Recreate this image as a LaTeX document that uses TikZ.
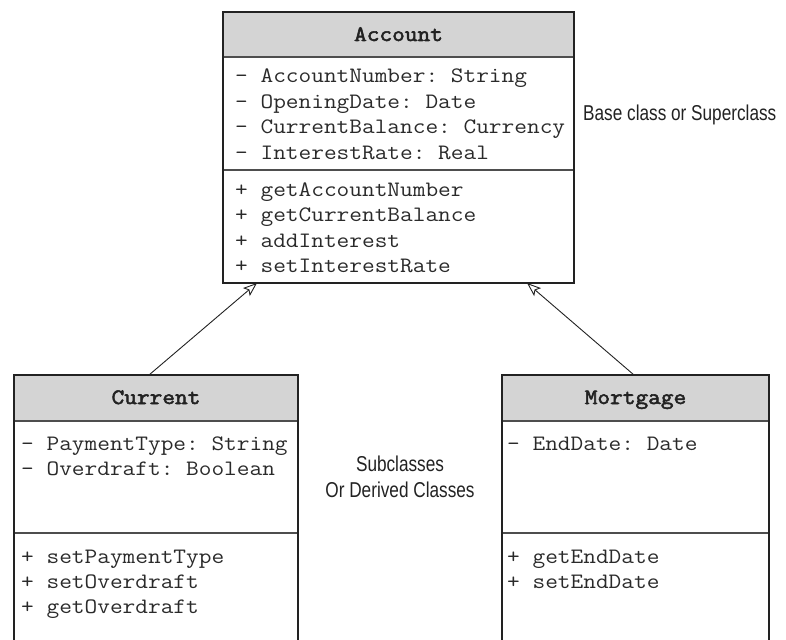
\documentclass[tikz,border=0pt]{standalone}
\usepackage{fontspec}
\setmonofont[FakeStretch=1.12]{Latin Modern Mono}
\newfontfamily\boldmono[FakeStretch=1.12,FakeBold=2.5]{Latin Modern Mono}
\newfontfamily\condsans[FakeStretch=0.8]{Liberation Sans}
\usetikzlibrary{arrows.meta,calc}
\definecolor{hdr}{HTML}{D4D4D4}
\definecolor{ink}{HTML}{222222}
\definecolor{txt}{HTML}{2A2A2A}
\begin{document}
\begin{tikzpicture}[x=1pt,y=-1pt,
  sect/.style={rectangle, inner sep=0pt, outer sep=0pt, anchor=north west},
  hdrbox/.style={sect, fill=hdr},
  mono/.style={inner sep=0pt, anchor=base west, font=\ttfamily\fontsize{22}{25}\selectfont, text=txt},
  clsname/.style={inner sep=0pt, anchor=base, font=\boldmono\fontsize{22}{25}\selectfont, text=ink},
  note/.style={inner sep=0pt, anchor=base, font=\condsans\fontsize{21.5}{26}\selectfont, text=ink},
  outline/.style={draw=ink, line width=2.4pt},
  divider/.style={draw=ink!80, line width=1.3pt},
  inherit/.style={draw=ink, line width=0.9pt, -{Stealth[open, length=14pt, width=10.5pt, inset=3pt]}}
]
\path[use as bounding box] (0,0) rectangle (786,639);
\clip (0,0) rectangle (786,639);

% ---------- Account ----------
\node[hdrbox, minimum width=351pt, minimum height=45pt] (accH) at (223,12) {};
\node[sect, minimum width=351pt, minimum height=113pt] (accA) at (223,57) {};
\node[sect, minimum width=351pt, minimum height=113pt] (accM) at (223,170) {};
\draw[divider] (accH.south west) -- (accH.south east);
\draw[divider] (accA.south west) -- (accA.south east);
\draw[outline] (accH.north west) rectangle (accM.south east);
\node[clsname] (accT) at (398.5,41) {Account};
\node[mono] (acc1) at (235,83) {– AccountNumber: String};
\node[mono] (acc2) at (235,108.5) {– OpeningDate: Date};
\node[mono] (acc3) at (235,134) {– CurrentBalance: Currency};
\node[mono] (acc4) at (235,159.5) {– InterestRate: Real};
\node[mono] (acc5) at (235,196) {+ getAccountNumber};
\node[mono] (acc6) at (235,221.5) {+ getCurrentBalance};
\node[mono] (acc7) at (235,247) {+ addInterest};
\node[mono] (acc8) at (235,272.5) {+ setInterestRate};

% ---------- Current ----------
\node[hdrbox, minimum width=284pt, minimum height=46pt] (curH) at (14,375) {};
\node[sect, minimum width=284pt, minimum height=112pt] (curA) at (14,421) {};
\node[sect, minimum width=284pt, minimum height=130pt] (curM) at (14,533) {};
\draw[divider] (curH.south west) -- (curH.south east);
\draw[divider] (curA.south west) -- (curA.south east);
\draw[outline] (curH.north west) rectangle (curM.south east);
\node[clsname] (curT) at (156,404) {Current};
\node[mono] (cur1) at (21,450) {– PaymentType: String};
\node[mono] (cur2) at (21,475.5) {– Overdraft: Boolean};
\node[mono] (cur3) at (21,563) {+ setPaymentType};
\node[mono] (cur4) at (21,588) {+ setOverdraft};
\node[mono] (cur5) at (21,613) {+ getOverdraft};

% ---------- Mortgage ----------
\node[hdrbox, minimum width=267pt, minimum height=46pt] (morH) at (502,375) {};
\node[sect, minimum width=267pt, minimum height=112pt] (morA) at (502,421) {};
\node[sect, minimum width=267pt, minimum height=130pt] (morM) at (502,533) {};
\draw[divider] (morH.south west) -- (morH.south east);
\draw[divider] (morA.south west) -- (morA.south east);
\draw[outline] (morH.north west) rectangle (morM.south east);
\node[clsname] (morT) at (635.5,404) {Mortgage};
\node[mono] (mor1) at (507,450) {– EndDate: Date};
\node[mono] (mor2) at (507,563) {+ getEndDate};
\node[mono] (mor3) at (507,588) {+ setEndDate};

% ---------- connectors ----------
\draw[inherit] ([xshift=-7pt]curH.north) -- ([xshift=-141.5pt]accM.south);
\draw[inherit] ([xshift=-1.5pt]morH.north) -- ([xshift=128.5pt]accM.south);

% ---------- notes ----------
\node[note, anchor=base west] (baseNote) at (583,121) {Base class or Superclass};
\node[note] (subNote1) at (400,471) {Subclasses};
\node[note] (subNote2) at (400,497) {Or Derived Classes};
\end{tikzpicture}
\end{document}
